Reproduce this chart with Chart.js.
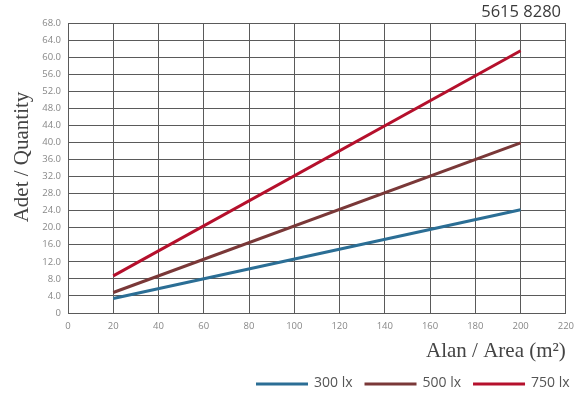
<!DOCTYPE html>
<html>
<head>
<meta charset="utf-8">
<script src="https://cdn.jsdelivr.net/npm/chart.js@4"></script>
<style>
html,body{margin:0;padding:0;background:#fff;}
#wrap{width:582px;height:398px;position:relative;}
</style>
</head>
<body>
<div id="wrap"><canvas id="c" width="582" height="398"></canvas></div>
<script>
const areaX = [20, 200];
const lux300 = [3.4, 24.2];
const lux500 = [4.8, 39.9];
const lux750 = [8.7, 61.5];
const seriesLabels = ['300 lx', '500 lx', '750 lx'];
const seriesColors = ['#2b6e95', '#7a3838', '#b5102c'];
const codeText = '5615 8280';
const yTitle = 'Adet / Quantity';
const xTitle = 'Alan / Area (m²)';

function pts(xs, ys){ return xs.map((x,i)=>({x:x, y:ys[i]})); }

const extras = {
  id: 'extras',
  afterDraw(chart){
    const ctx = chart.ctx;
    ctx.save();
    // top code
    ctx.fillStyle = '#3a3a3a';
    ctx.font = '16.5px "Open Sans"';
    ctx.textAlign = 'right';
    ctx.textBaseline = 'middle';
    ctx.fillText(codeText, 561, 12);
    // y title
    ctx.save();
    ctx.translate(22, 157);
    ctx.rotate(-Math.PI/2);
    ctx.font = '21px "Liberation Serif"';
    ctx.fillStyle = '#444';
    ctx.textAlign = 'center';
    ctx.textBaseline = 'middle';
    ctx.fillText(yTitle, 0, 0);
    ctx.restore();
    // legend
    ctx.font = '14px "Open Sans"';
    ctx.textAlign = 'left';
    ctx.textBaseline = 'middle';
    let x = 256;
    const y = 384;
    chart.data.datasets.forEach(ds => {
      ctx.strokeStyle = ds.borderColor;
      ctx.lineWidth = 3;
      ctx.beginPath();
      ctx.moveTo(x, y);
      ctx.lineTo(x + 52, y);
      ctx.stroke();
      x += 58;
      ctx.fillStyle = '#555';
      ctx.fillText(ds.label, x, y - 1);
      x += ctx.measureText(ds.label).width + 12;
    });
    ctx.restore();
  }
};

new Chart(document.getElementById('c'), {
  type: 'line',
  data: {
    datasets: [
      {label: seriesLabels[0], data: pts(areaX, lux300), borderColor: seriesColors[0]},
      {label: seriesLabels[1], data: pts(areaX, lux500), borderColor: seriesColors[1]},
      {label: seriesLabels[2], data: pts(areaX, lux750), borderColor: seriesColors[2]}
    ].map(d => Object.assign(d, {borderWidth: 3, pointRadius: 0, fill: false, tension: 0, borderCapStyle: 'butt'}))
  },
  options: {
    responsive: false,
    animation: false,
    layout: {padding: {left: 0, right: 15, top: 23, bottom: 30}},
    plugins: {legend: {display: false}, title: {display: false}, tooltip: {enabled: false}},
    scales: {
      x: {
        type: 'linear', min: 0, max: 220,
        afterFit: s => { s.height = 55; },
        ticks: {stepSize: 20, color: '#888', font: {family: 'Open Sans', size: 9.5}, padding: 8, maxRotation: 0},
        grid: {color: '#5a5a5a', lineWidth: 1, drawTicks: false},
        border: {color: '#5a5a5a', width: 1},
        title: {display: true, text: xTitle, align: 'end', color: '#444', font: {family: 'Liberation Serif', size: 21}, padding: {top: 0, bottom: 4}}
      },
      y: {
        min: 0, max: 68,
        afterFit: s => { s.width = 68; },
        ticks: {stepSize: 4, color: '#888', font: {family: 'Open Sans', size: 9.5}, padding: 7,
          callback: v => v === 0 ? '0' : v.toFixed(1)},
        grid: {color: '#5a5a5a', lineWidth: 1, drawTicks: false},
        border: {color: '#5a5a5a', width: 1}
      }
    }
  },
  plugins: [extras]
});
</script>
</body>
</html>
